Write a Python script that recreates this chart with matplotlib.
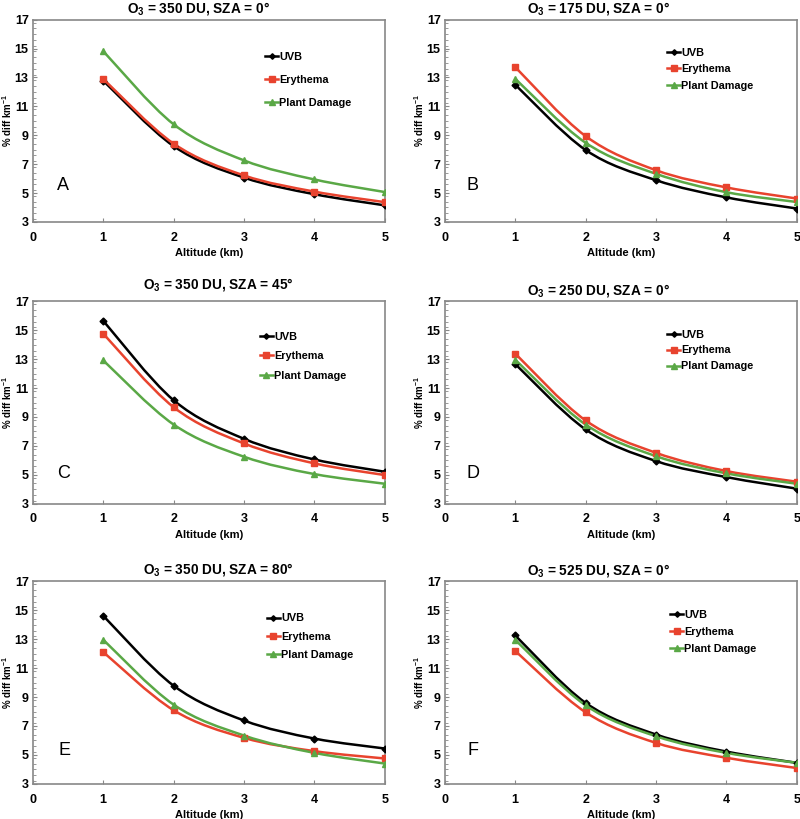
import matplotlib
matplotlib.use("Agg")
import matplotlib.pyplot as plt
from matplotlib.path import Path
from matplotlib.patches import PathPatch
from matplotlib.ticker import MultipleLocator, FixedLocator

plt.rcParams['font.family'] = ['Liberation Sans', 'DejaVu Sans']
plt.rcParams['mathtext.fontset'] = 'custom'
plt.rcParams['mathtext.rm'] = 'Liberation Sans'
plt.rcParams['mathtext.bf'] = 'Liberation Sans:bold'

altitude = [1, 2, 3, 4, 5]
series_names = ["UVB", "Erythema", "Plant Damage"]
y_ticks = [3, 5, 7, 9, 11, 13, 15, 17]
x_ticks = [0, 1, 2, 3, 4, 5]

panel_titles = ["350 DU, SZA = 0°", "175 DU, SZA = 0°", "350 DU, SZA = 45°",
                "250 DU, SZA = 0°", "350 DU, SZA = 80°", "525 DU, SZA = 0°"]
panel_letters = ["A", "B", "C", "D", "E", "F"]

uvb_A = [12.78, 8.25, 6.07, 4.92, 4.15]
ery_A = [12.9, 8.42, 6.22, 5.1, 4.37]
pla_A = [14.82, 9.76, 7.26, 5.94, 5.07]

uvb_B = [12.5, 7.98, 5.89, 4.7, 3.93]
ery_B = [13.72, 8.94, 6.58, 5.39, 4.62]
pla_B = [12.91, 8.48, 6.33, 5.06, 4.38]

uvb_C = [15.66, 10.16, 7.49, 6.06, 5.21]
ery_C = [14.77, 9.68, 7.17, 5.79, 4.98]
pla_C = [12.92, 8.48, 6.25, 5.05, 4.38]

uvb_D = [12.67, 8.14, 5.95, 4.84, 4.04]
ery_D = [13.39, 8.76, 6.52, 5.26, 4.52]
pla_D = [12.97, 8.48, 6.29, 5.1, 4.38]

uvb_E = [14.63, 9.79, 7.38, 6.13, 5.44]
ery_E = [12.12, 8.09, 6.18, 5.26, 4.75]
pla_E = [12.97, 8.48, 6.34, 5.14, 4.4]

uvb_F = [13.27, 8.6, 6.41, 5.23, 4.45]
ery_F = [12.2, 7.95, 5.83, 4.8, 4.09]
pla_F = [12.97, 8.43, 6.29, 5.14, 4.45]

panel_data = [
    (uvb_A, ery_A, pla_A), (uvb_B, ery_B, pla_B), (uvb_C, ery_C, pla_C),
    (uvb_D, ery_D, pla_D), (uvb_E, ery_E, pla_E), (uvb_F, ery_F, pla_F),
]

colors = ["#000000", "#e8432e", "#5aa846"]
markers = ["D", "s", "^"]
msizes = [3.5, 5, 5]

# layout (figure fractions)
lefts = [0.041, 0.556]
width = 0.440
bottoms = [0.729, 0.385, 0.043]
height = 0.247

title_x = [0.47, 0.4375, 0.528, 0.4375, 0.528, 0.4375]
title_pad = [5, 5, 9, 5, 6, 5]
leg_pos = [(0.66, 0.842), (0.632, 0.862), (0.645, 0.851),
           (0.632, 0.861), (0.665, 0.842), (0.64, 0.861)]
leg_spacing = [1.2, 0.6, 0.9, 0.55, 0.75, 0.65]
letter_pos = [(0.43, 5.5), (0.4, 5.5), (0.43, 5.1), (0.4, 5.1), (0.45, 5.3), (0.4, 5.3)]


def smooth_path(xs, ys):
    pts = list(zip(xs, ys))
    verts = [pts[0]]
    codes = [Path.MOVETO]
    n = len(pts)
    for i in range(n - 1):
        p0 = pts[i - 1] if i > 0 else pts[i]
        p1 = pts[i]
        p2 = pts[i + 1]
        p3 = pts[i + 2] if i + 2 < n else pts[i + 1]
        c1 = (p1[0] + (p2[0] - p0[0]) / 6.0, p1[1] + (p2[1] - p0[1]) / 6.0)
        c2 = (p2[0] - (p3[0] - p1[0]) / 6.0, p2[1] - (p3[1] - p1[1]) / 6.0)
        verts += [c1, c2, p2]
        codes += [Path.CURVE4] * 3
    return Path(verts, codes)


fig = plt.figure(figsize=(8.0, 8.19), dpi=100)

for k in range(6):
    r, c = divmod(k, 2)
    ax = fig.add_axes([lefts[c], bottoms[r], width, height])
    for s in range(3):
        ys = panel_data[k][s]
        patch = PathPatch(smooth_path(altitude, ys), facecolor="none",
                          edgecolor=colors[s], lw=1.8, zorder=2 + s * 0.1)
        ax.add_patch(patch)
        ax.plot(altitude, ys, linestyle="none", marker=markers[s],
                ms=msizes[s], color=colors[s], zorder=3 + s * 0.1)
        ax.plot([], [], color=colors[s], marker=markers[s], ms=msizes[s] * 0.8,
                lw=1.8, label=series_names[s])
    ax.set_xlim(0, 5)
    ax.set_ylim(3, 17)
    ax.xaxis.set_major_locator(FixedLocator(x_ticks))
    ax.yaxis.set_major_locator(FixedLocator(y_ticks))
    ax.yaxis.set_minor_locator(MultipleLocator(0.4))
    ax.tick_params(axis="both", which="major", direction="in", length=3,
                   color="#888888", labelsize=9)
    ax.tick_params(axis="x", which="major", pad=7)
    ax.tick_params(axis="y", which="major", pad=3)
    ax.tick_params(axis="y", which="minor", direction="in", length=2, color="#888888")
    for lab in ax.get_xticklabels() + ax.get_yticklabels():
        lab.set_fontweight("bold")
    for sp in ax.spines.values():
        sp.set_color("#888888")
        sp.set_linewidth(1.2)
    ax.set_title(r"O$_{\mathbf{3}}$ = " + panel_titles[k], fontsize=9.8,
                 fontweight="bold", pad=title_pad[k], x=title_x[k])
    ax.set_xlabel("Altitude (km)", fontsize=8, fontweight="bold", labelpad=3)
    ax.set_ylabel(r"% diff km$^{\mathbf{-1}}$", fontsize=7, fontweight="bold")
    ax.yaxis.set_label_coords(-0.054, 0.5)
    ax.text(letter_pos[k][0], letter_pos[k][1], panel_letters[k], fontsize=13,
            ha="center", va="center")
    leg = ax.legend(loc="upper left", bbox_to_anchor=leg_pos[k], frameon=False,
                    borderpad=0, borderaxespad=0, handlelength=1.2,
                    handletextpad=0.1, labelspacing=leg_spacing[k],
                    prop={"weight": "bold", "size": 7.8})

fig.savefig("out.png", dpi=100)
